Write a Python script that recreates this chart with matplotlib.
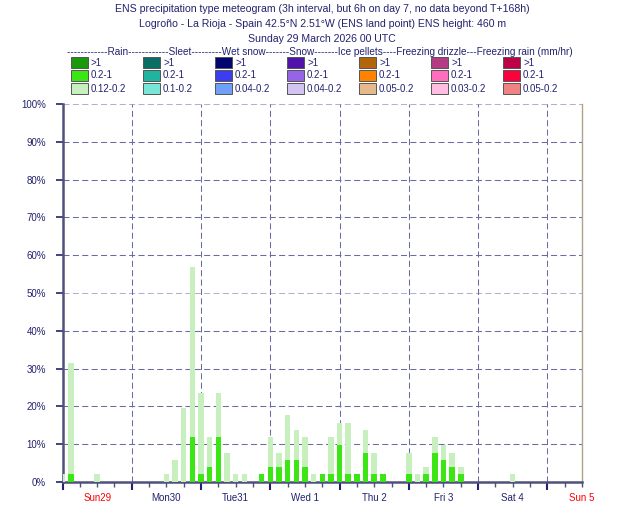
import numpy as np
import matplotlib
matplotlib.use("Agg")
import matplotlib.pyplot as plt
from matplotlib.patches import Rectangle

plt.rcParams.update({"font.family": ["Liberation Sans", "DejaVu Sans"], "font.size": 7})

NAVY = "#22226e"
GRID = "#6a6aa4"

# ---- data: rain probability (%) per forecast step (hours from base time) ----
hours = [0, 3, 12, 36, 39, 42, 45, 48, 51, 54, 57, 60, 63, 69, 72, 75, 78, 81, 84,
         87, 90, 93, 96, 99, 102, 105, 108, 111, 120, 123, 126, 129, 132, 135, 138, 156]
rain_total = [2.0, 31.4, 2.0, 2.0, 5.9, 19.6, 56.9, 23.5, 11.8, 23.5, 7.8, 2.0, 2.0, 2.0,
              11.8, 7.8, 17.6, 13.7, 11.8, 2.0, 2.0, 11.8, 15.7, 15.7, 2.0, 13.7, 7.8, 2.0,
              7.8, 2.0, 3.9, 11.8, 9.8, 7.8, 3.9, 2.0]
rain_mid = [0, 2.0, 0, 0, 0, 0, 11.8, 2.0, 3.9, 11.8, 0, 0, 0, 2.0,
            3.9, 3.9, 5.9, 5.9, 3.9, 0, 2.0, 2.0, 9.8, 2.0, 2.0, 7.8, 2.0, 2.0,
            2.0, 0, 2.0, 7.8, 5.9, 3.9, 2.0, 0]
day_labels = ["Sun29", "Mon30", "Tue31", "Wed 1", "Thu 2", "Fri 3", "Sat 4", "Sun 5"]
day_label_colors = ["red", NAVY, NAVY, NAVY, NAVY, NAVY, NAVY, "red"]

titles = ["ENS precipitation type meteogram (3h interval, but 6h on day 7, no data beyond T+168h)",
          "Logro\u00f1o - La Rioja - Spain 42.5\u00b0N 2.51\u00b0W (ENS land point) ENS height: 460 m",
          "Sunday 29 March 2026 00 UTC"]
legend_header = ("------------Rain------------Sleet---------Wet snow-------Snow-------"
                 "Ice pellets----Freezing drizzle---Freezing rain (mm/hr)")
legend_labels = [[">1", "0.2-1", "0.12-0.2"], [">1", "0.2-1", "0.1-0.2"],
                 [">1", "0.2-1", "0.04-0.2"], [">1", "0.2-1", "0.04-0.2"],
                 [">1", "0.2-1", "0.05-0.2"], [">1", "0.2-1", "0.03-0.2"],
                 [">1", "0.2-1", "0.05-0.2"]]
legend_colors = [["#1a9a0a", "#3ce614", "#c8f0be"], ["#0a6e64", "#1eb4a0", "#78e6d7"],
                 ["#05056e", "#3c3cf0", "#6ea0fa"], ["#5014aa", "#9664e6", "#d2c3f0"],
                 ["#b4640a", "#ff8200", "#e6b98c"], ["#b43c82", "#ff6ebe", "#ffbee1"],
                 ["#be0046", "#ff003c", "#f08282"]]

W, H = 630, 525
fig = plt.figure(figsize=(W / 100, H / 100), dpi=100)
ax = fig.add_axes([62.5 / W, 1 - 482 / H, (582 - 62.5) / W, (482 - 104) / H])

h = np.array(hours, float)
tot = np.array(rain_total)
mid = np.array(rain_mid)
ax.bar(h, mid, width=1.9, color=legend_colors[0][1], zorder=3)
ax.bar(h, tot - mid, bottom=mid, width=1.9, color=legend_colors[0][2], zorder=3)

ax.set_xlim(0, 180)
ax.set_ylim(0, 100)

# grid
for y in range(10, 101, 10):
    c = "#b0b0d0" if y in (50, 100) else GRID
    ax.axhline(y, color=c, lw=0.75, dashes=(5.8, 3.2), zorder=1)
for x in range(24, 180, 24):
    ax.axvline(x, color=GRID, lw=0.75, dashes=(5.8, 3.2), zorder=1)

ax.set_yticks(range(0, 101, 10))
ax.set_yticklabels([f"{v}%" for v in range(0, 101, 10)], color=NAVY)
ax.tick_params(axis="y", length=5, width=1.2, color=NAVY, pad=7)
ax.set_xticks(range(0, 181, 24))
ax.set_xticklabels([])
ax.set_xticks(range(0, 181, 6), minor=True)
ax.tick_params(axis="x", which="major", length=6, width=1.5, color=NAVY)
ax.tick_params(axis="x", which="minor", length=3.5, width=1, color="#50507a")
for i, lab in enumerate(day_labels):
    ax.text(12 + 24 * i, -0.042, lab, transform=ax.get_xaxis_transform(),
            ha="center", va="center", color=day_label_colors[i], fontsize=7)

for s in ("left", "bottom"):
    ax.spines[s].set_color("#50507a")
    ax.spines[s].set_linewidth(1.8)
ax.spines["right"].set_color("#b4a08c")
ax.spines["right"].set_linewidth(1)
ax.spines["top"].set_visible(False)

# titles
cx = (62.5 + 582) / 2 / W
for y, t in zip([9.5, 24, 38.5], titles):
    fig.text(cx, 1 - y / H, t, ha="center", va="center", color=NAVY, fontsize=7.6)

# legend
fig.text(67 / W, 1 - 52 / H, legend_header, ha="left", va="center", color=NAVY, fontsize=7.2)
for j in range(7):
    x0 = 71 + 72 * j
    for r in range(3):
        ytop = 57 + 13 * r
        fig.patches.append(Rectangle((x0 / W, 1 - (ytop + 11) / H), 17 / W, 11 / H,
                                     transform=fig.transFigure, facecolor=legend_colors[j][r],
                                     edgecolor="#555555", lw=0.7))
        fig.text((x0 + 20) / W, 1 - (ytop + 5.5) / H, legend_labels[j][r],
                 ha="left", va="center", color=NAVY, fontsize=7)

fig.savefig("out.png", dpi=100)
